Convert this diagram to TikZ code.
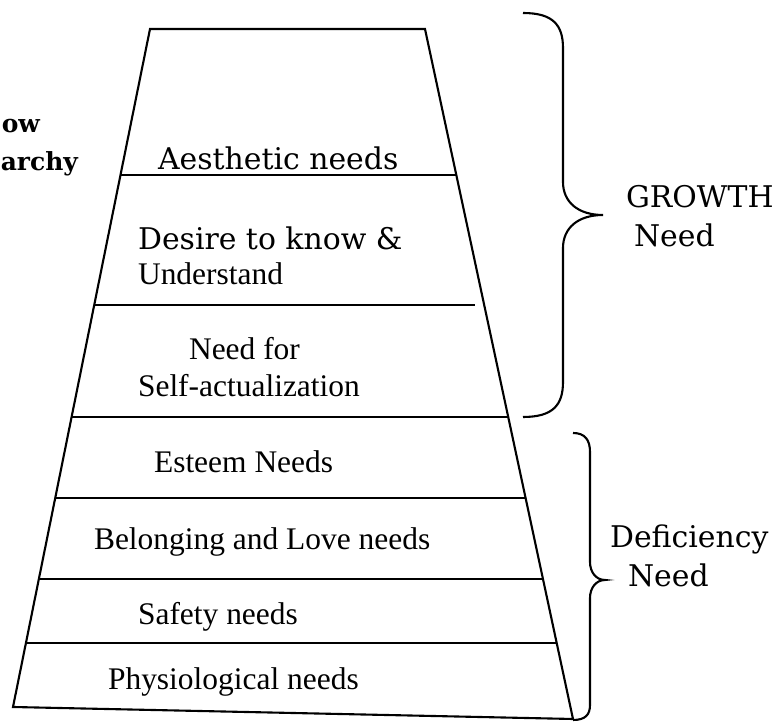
\documentclass[tikz,border=0pt]{standalone}
\usepackage{fontspec}
\setmainfont{Liberation Serif}
\newfontfamily\bookfont{DejaVu Serif}
\usepackage{tikz}

\tikzset{
  level/.style={inner sep=0pt, anchor=base west, font=\fontsize{17.9}{20}\selectfont},
  booklevel/.style={inner sep=0pt, anchor=base west, font=\bookfont\fontsize{17}{20}\selectfont},
  title/.style={inner sep=0pt, anchor=base east, font=\bookfont\bfseries\fontsize{14.2}{16}\selectfont}
}

\begin{document}
\begin{tikzpicture}[x=0.02cm, y=-0.02cm, line width=1.2pt]
\useasboundingbox (0,0) rectangle (779,722);

% pyramid
\draw (150,29) -- (425,29) -- (573,719) -- (13,707) -- cycle;
\draw (121,175) -- (456,175);
\draw (94,305) -- (475,305);
\draw (72,417) -- (508,417);
\draw (55,498) -- (525,498);
\draw (39,579) -- (542,579);
\draw (26,643) -- (556,643);

% braces
\draw (523,13) .. controls (553,13) and (563,25) .. (563,48) -- (563,182)
  .. controls (563,202) and (578,215) .. (603,215)
  .. controls (578,215) and (563,228) .. (563,248) -- (563,382)
  .. controls (563,405) and (553,417) .. (523,417);
\draw (573,433) .. controls (585,433) and (590,440) .. (590,452) -- (590,562)
  .. controls (590,572) and (596,580) .. (605,580)
  .. controls (596,580) and (590,588) .. (590,598) -- (590,705)
  .. controls (590,715) and (585,720) .. (573,720);

% labels
\node[title] (ow) at (41,133) {ow};
\node[title] (archy) at (79,171) {archy};

\node[booklevel] (aesthetic) at (157,170) {Aesthetic needs};
\node[booklevel] (desire) at (137,250) {Desire to know \&};
\node[level] (understand) at (137,285) {Understand};
\node[level] (needfor) at (188,360) {Need for};
\node[level] (selfact) at (137,397) {Self-actualization};
\node[level] (esteem) at (153,473) {Esteem Needs};
\node[level] (belonging) at (93,550) {Belonging and Love needs};
\node[level] (safety) at (137,625) {Safety needs};
\node[level] (physio) at (107,690) {Physiological needs};

\node[booklevel] (growth) at (625,208) {GROWTH};
\node[booklevel] (gneed) at (633,247) {Need};
\node[booklevel] (deficiency) at (609,548) {Deficiency};
\node[booklevel] (dneed) at (627,587) {Need};

\end{tikzpicture}
\end{document}
